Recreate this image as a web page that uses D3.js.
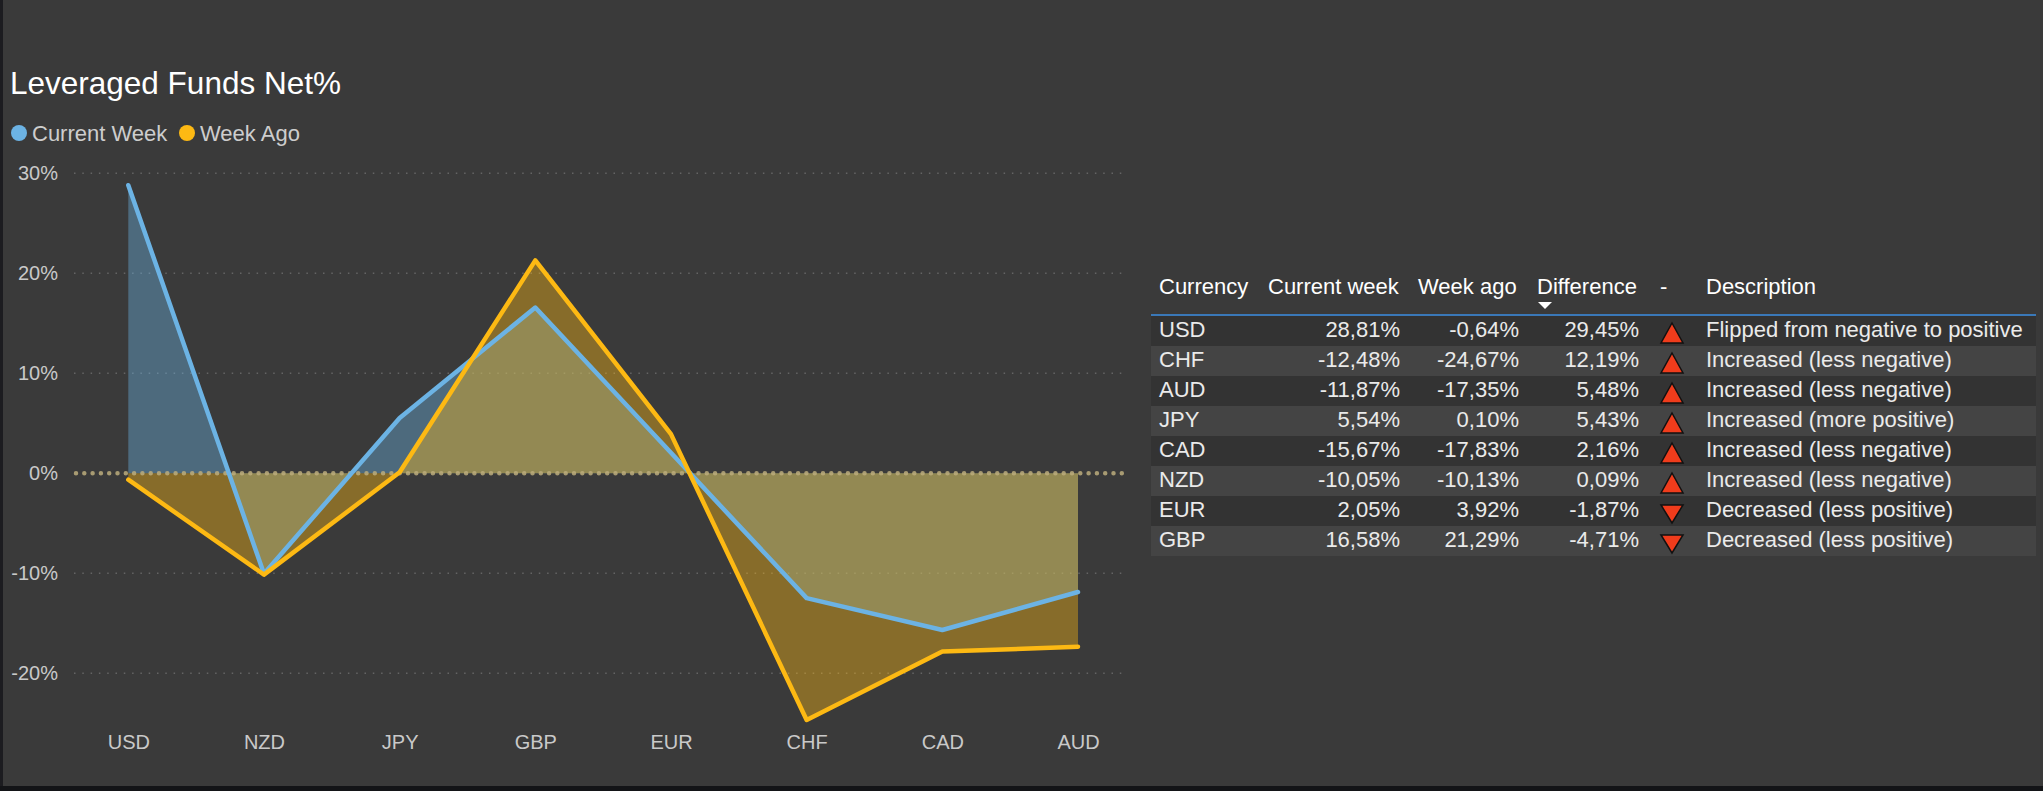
<!DOCTYPE html>
<html>
<head>
<meta charset="utf-8">
<script src="https://cdn.jsdelivr.net/npm/d3@7"></script>
<style>
    html, body { margin: 0; padding: 0; background: #3a3a3a; overflow: hidden; }
    svg { display: block; font-family: "Liberation Sans", Arial, sans-serif; }
</style>
</head>
<body>
<svg id="chart" width="2043" height="791"></svg>
<script>
// table order (sorted by difference)
const currencies = ["USD", "CHF", "AUD", "JPY", "CAD", "NZD", "EUR", "GBP"];
const currentWeek = [28.81, -12.48, -11.87, 5.54, -15.67, -10.05, 2.05, 16.58];
const weekAgo = [-0.64, -24.67, -17.35, 0.10, -17.83, -10.13, 3.92, 21.29];
const difference = [29.45, 12.19, 5.48, 5.43, 2.16, 0.09, -1.87, -4.71];
const descriptions = [
    "Flipped from negative to positive",
    "Increased (less negative)",
    "Increased (less negative)",
    "Increased (more positive)",
    "Increased (less negative)",
    "Increased (less negative)",
    "Decreased (less positive)",
    "Decreased (less positive)"
];
// x axis order of the area chart
const chartOrder = ["USD", "NZD", "JPY", "GBP", "EUR", "CHF", "CAD", "AUD"];
const yTicks = [-20, -10, 0, 10, 20, 30];
const headers = ["Currency", "Current week", "Week ago", "Difference", "-", "Description"];

const blue = "#6cb3e4";
const gold = "#fdb913";

const svg = d3.select("#chart");

// frame edges
svg.append("rect").attr("x", 0).attr("y", 0).attr("width", 3).attr("height", 791).attr("fill", "#1c1c20");
svg.append("rect").attr("x", 0).attr("y", 786).attr("width", 2043).attr("height", 5).attr("fill", "#131417");

// ---------- area chart ----------
const x = d3.scalePoint().domain(chartOrder).range([128.3, 1078]);
const y = d3.scaleLinear().domain([-20, 30]).range([673.3, 173.3]);

const rows = chartOrder.map((c) => {
    const i = currencies.indexOf(c);
    return { cur: c, now: currentWeek[i], ago: weekAgo[i] };
});

svg.append("text")
    .attr("x", 10).attr("y", 94)
    .attr("fill", "#ffffff")
    .style("font-size", "31.5px")
    .text("Leveraged Funds Net%");

//legend
const legend = [["Current Week", blue, 19], ["Week Ago", gold, 187]];
legend.forEach((l) => {
    svg.append("circle").attr("cx", l[2]).attr("cy", 133).attr("r", 8).attr("fill", l[1]);
    svg.append("text").attr("x", l[2] + 13).attr("y", 141)
        .attr("fill", "#cdcdcd").style("font-size", "22px").text(l[0]);
});

// grid
svg.append("g").selectAll("line")
    .data(yTicks.filter((d) => d !== 0))
    .enter().append("line")
    .attr("x1", 74).attr("x2", 1128)
    .attr("y1", (d) => y(d)).attr("y2", (d) => y(d))
    .attr("stroke", "#646464")
    .attr("stroke-width", 1.5)
    .attr("stroke-dasharray", "1.5,6.8");

const area = (key) => d3.area()
    .x((d) => x(d.cur))
    .y0(y(0))
    .y1((d) => y(d[key]));
const line = (key) => d3.line()
    .x((d) => x(d.cur))
    .y((d) => y(d[key]));

svg.append("path").datum(rows).attr("d", area("now")).attr("fill", blue).attr("fill-opacity", 0.4);
svg.append("path").datum(rows).attr("d", area("ago")).attr("fill", gold).attr("fill-opacity", 0.4);

// zero line
svg.append("line")
    .attr("x1", 76).attr("x2", 1128)
    .attr("y1", y(0)).attr("y2", y(0))
    .attr("stroke", "#bcad7c")
    .attr("stroke-opacity", 0.85)
    .attr("stroke-width", 4.5)
    .attr("stroke-linecap", "round")
    .attr("stroke-dasharray", "0,8.3");

svg.append("path").datum(rows).attr("d", line("now"))
    .attr("fill", "none").attr("stroke", blue).attr("stroke-width", 4.5)
    .attr("stroke-linejoin", "round").attr("stroke-linecap", "round");
svg.append("path").datum(rows).attr("d", line("ago"))
    .attr("fill", "none").attr("stroke", gold).attr("stroke-width", 4.5)
    .attr("stroke-linejoin", "round").attr("stroke-linecap", "round");

// axes
const yAxis = svg.append("g")
    .attr("transform", "translate(58,0)")
    .call(d3.axisLeft(y).tickValues(yTicks).tickSize(0).tickPadding(0).tickFormat((d) => d + "%"));
const xAxis = svg.append("g")
    .attr("transform", "translate(0,735)")
    .call(d3.axisBottom(x).tickSize(0).tickPadding(0));
[yAxis, xAxis].forEach((a) => {
    a.select(".domain").remove();
    a.selectAll("text")
        .attr("fill", "#c9c9c9")
        .style("font-size", "20px")
        .style("font-family", "\"Liberation Sans\", Arial, sans-serif");
});

// ---------- table ----------
const locale = d3.formatLocale({ decimal: ",", thousands: ".", grouping: [3], currency: ["", ""], minus: "-" });
const pct = (v) => locale.format(".2f")(v) + "%";

const tbl = svg.append("g").style("font-size", "22px");
const rowTop = 316, rowH = 30;
const bandX = 1151, bandW = 885;

const headerX = [1159, 1268, 1418, 1537, 1660, 1706];
tbl.selectAll("text.head")
    .data(headers)
    .enter().append("text")
    .attr("class", "head")
    .attr("x", (d, i) => headerX[i])
    .attr("y", 294)
    .attr("fill", "#ffffff")
    .text((d) => d);

// sort arrow
tbl.append("path")
    .attr("d", "M1538,302 L1552,302 L1545,309 Z")
    .attr("fill", "#ffffff");

tbl.append("rect")
    .attr("x", bandX).attr("y", 314).attr("width", bandW).attr("height", 2)
    .attr("fill", "#3a78b8");

const tr = tbl.selectAll("g.row")
    .data(currencies)
    .enter().append("g")
    .attr("class", "row")
    .attr("transform", (d, i) => "translate(0," + (rowTop + i * rowH) + ")");

tr.append("rect")
    .attr("x", bandX).attr("y", 0).attr("width", bandW).attr("height", rowH)
    .attr("fill", (d, i) => i % 2 === 0 ? "#333333" : "#444444");

const cellY = 21;
tr.append("text").attr("x", 1159).attr("y", cellY).attr("fill", "#eaeaea").text((d) => d);
tr.append("text").attr("x", 1400).attr("y", cellY).attr("text-anchor", "end").attr("fill", "#eaeaea")
    .text((d, i) => pct(currentWeek[i]));
tr.append("text").attr("x", 1519).attr("y", cellY).attr("text-anchor", "end").attr("fill", "#eaeaea")
    .text((d, i) => pct(weekAgo[i]));
tr.append("text").attr("x", 1639).attr("y", cellY).attr("text-anchor", "end").attr("fill", "#eaeaea")
    .text((d, i) => pct(difference[i]));
tr.append("path")
    .attr("d", (d, i) => difference[i] >= 0
        ? "M1672,7 L1683,27 L1661,27 Z"
        : "M1661,9 L1683,9 L1672,27 Z")
    .attr("fill", "#f03c1c")
    .attr("stroke", "#111111")
    .attr("stroke-width", 1.5)
    .attr("stroke-linejoin", "miter");
tr.append("text").attr("x", 1706).attr("y", cellY).attr("fill", "#eaeaea")
    .text((d, i) => descriptions[i]);
</script>
</body>
</html>
